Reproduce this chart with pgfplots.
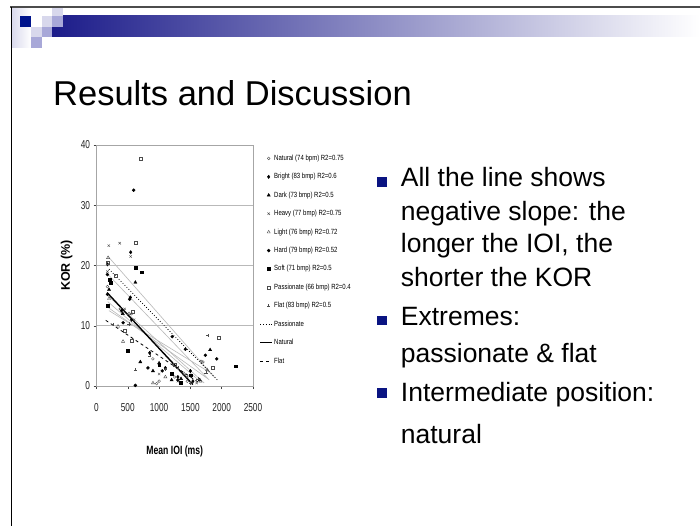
\documentclass[border=0pt]{standalone}
\usepackage{pgfplots}
\pgfplotsset{compat=1.18}
\usepackage{fontspec}
\setmainfont{Liberation Sans}
\newfontfamily\narrowfont[FakeStretch=0.72]{Liberation Sans}
\newfontfamily\legfont[FakeStretch=0.8]{Liberation Sans}
\definecolor{navybar}{RGB}{28,28,138}
\definecolor{midbar}{RGB}{160,160,196}
\definecolor{sqdark}{RGB}{0,20,140}
\definecolor{sqlight}{RGB}{216,216,236}
\definecolor{sqmid}{RGB}{168,168,216}
\definecolor{bulletc}{RGB}{10,20,130}
\pgfplotsset{shortline/.style={legend image code/.code={\draw[##1] (0cm,0cm) -- (0.4cm,0cm);}}}
\begin{document}
\begin{tikzpicture}[x=1pt,y=1pt]
\path[use as bounding box, fill=white] (0,0) rectangle (700,-526);
% header decoration
\shade[left color=sqlight, right color=white] (11,-7) rectangle (31,-48);
\shade[left color=navybar, middle color=midbar, right color=white] (52,-16) rectangle (700,-37);
\fill[sqdark] (20,-16) rectangle (31,-27);
\fill[sqlight] (42,-16) rectangle (52,-27);
\fill[sqlight] (52,-7) rectangle (63,-16);
\fill[sqlight] (31,-27) rectangle (42,-37);
\fill[sqmid] (52,-16) rectangle (63,-27);
\fill[sqmid] (42,-27) rectangle (52,-37);
\fill[sqmid] (31,-37) rectangle (42,-48);
\draw[gray!60!black, line width=1.2pt] (10,-7) -- (700,-7);
\draw[black, line width=0.9pt] (11,-7) -- (11,-526);
% title
\node[anchor=base west, inner sep=0pt, font=\fontsize{34.5}{40}\selectfont] at (53,-106) {Results and Discussion};
% bullets
\fill[bulletc] (377,-177.5) rectangle (387,-187);
\fill[bulletc] (377,-315.5) rectangle (387,-325);
\fill[bulletc] (377,-388) rectangle (387,-397.5);
\begin{scope}[every node/.style={anchor=base west, inner sep=0pt, font=\fontsize{26.5}{30}\selectfont}]
\node at (400.7,-186.7) {All the line shows};
\node at (400.7,-220.3) {negative slope: the};
\node at (400.7,-253) {longer the IOI, the};
\node at (400.7,-286) {shorter the KOR};
\node at (400.7,-325) {Extremes:};
\node at (400.7,-362.7) {passionate \& flat};
\node at (400.7,-401.7) {Intermediate position:};
\node at (400.7,-443) {natural};
\end{scope}
% chart
\begin{axis}[
 at={(96.5pt,-386pt)}, anchor=south west, scale only axis,
 width=156.5pt, height=241pt,
 xmin=0, xmax=2500, ymin=0, ymax=40,
 xtick={0,500,1000,1500,2000,2500}, ytick={0,10,20,30,40},
 tick pos=left,
 ymajorgrids, major grid style={gray!55, line width=0.8pt},
 axis line style={gray!70, line width=0.8pt},
 tick align=outside, major tick length=3pt,
 tick style={gray!50!black, line width=0.5pt},
 /pgf/number format/assume math mode=true,
 /pgf/number format/1000 sep={},
 ticklabel style={font=\narrowfont\fontsize{11.5}{13}\selectfont, text=black!85},
 xticklabel style={yshift=-11pt},
 xlabel={Mean IOI (ms)}, ylabel={KOR (\%)},
 xlabel style={font=\narrowfont\bfseries\fontsize{12}{14}\selectfont, at={(axis description cs:0.5,-0.27)}, anchor=center},
 ylabel style={font=\bfseries\fontsize{12.5}{14}\selectfont, at={(axis description cs:-0.19,0.5)}, anchor=center},
 clip=false,
 legend style={at={(axis description cs:1.04,0.968)}, anchor=north west, draw=none, fill=none,
   font=\legfont\fontsize{7.5}{9}\selectfont, row sep=7.5pt, inner sep=0pt},
 legend cell align=left,
]
% Natural (open circle)
\addplot[only marks, mark=o, mark size=1.4pt, gray!60!black] coordinates {
(175,16.5) (380,12.8) (560,12.0) (900,4.5) (1671,4.1) (1700,4.0) (1250,1.5) (1450,0.8) (1000,0.8) (960,0.4)};
\addlegendentry{Natural (74 bpm) R2=0.75}
% Bright (filled diamond)
\addplot[only marks, mark=diamond*, mark size=1.7pt, black] coordinates {
(546,22.2) (175,20.2) (541,14.7) (400,12.5) (560,11.0) (850,5.5) (1100,3.0) (1300,1.5) (1500,2.5) (1540,0.8)};
\addlegendentry{Bright (83 bmp) R2=0.6}
% Dark (filled triangle)
\addplot[only marks, mark=triangle*, mark size=1.8pt, black] coordinates {
(621,17.2) (200,16.0) (420,12.0) (902,2.5) (1000,3.8) (1200,1.0) (1350,1.2) (1815,6.0) (1650,1.0) (700,4.0)};
\addlegendentry{Dark (73 bmp) R2=0.5}
% Heavy (x)
\addplot[only marks, mark=x, mark size=1.7pt, gray!60!black] coordinates {
(197,23.3) (371,23.7) (546,21.5) (175,19.0) (450,12.8) (600,11.0) (1000,2.0) (1300,0.8) (1450,1.5) (1600,0.5)};
\addlegendentry{Heavy (77 bmp) R2=0.75}
% Light (open triangle)
\addplot[only marks, mark=triangle, mark size=1.8pt, gray!60!black] coordinates {
(185,21.3) (344,9.9) (424,7.4) (902,0.5) (1767,2.7) (1660,0.8) (520,12.0) (200,14.5) (1100,1.5) (1400,2.0)};
\addlegendentry{Light (76 bmp) R2=0.72}
% Hard (filled circle)
\addplot[only marks, mark=*, mark size=1.5pt, black] coordinates {
(594,32.5) (175,18.5) (175,15.2) (424,10.5) (822,3.0) (1210,8.2) (1421,6.1) (1740,5.1) (1920,4.5) (621,0.1) (1050,2.5) (1300,1.0) (530,14.4)};
\addlegendentry{Hard (79 bmp) R2=0.52}
% Soft (filled square)
\addplot[only marks, mark=square*, mark size=1.4pt, black] coordinates {
(621,19.7) (716,18.9) (212,17.7) (227,17.2) (175,13.3) (503,5.8) (2229,3.3) (1200,2.0) (1350,0.5) (1500,1.8) (1000,3.5)};
\addlegendentry{Soft (71 bmp) R2=0.5}
% Passionate (open square)
\addplot[only marks, mark=square, mark size=1.5pt, gray!60!black] coordinates {
(175,20.5) (302,18.3) (626,23.8) (700,37.7) (580,12.3) (451,9.1) (557,7.5) (1250,3.5) (1857,3.0) (1952,8.0)};
\addlegendentry{Passionate (66 bmp) R2=0.4}
% Flat (plus)
\addplot[only marks, mark=+, mark size=1.6pt, gray!60!black] coordinates {
(621,2.7) (1777,8.4) (1750,2.2) (260,10.2) (520,10.3) (850,5.0) (1100,2.8) (1300,3.0) (1500,0.5) (1620,1.2)};
\addlegendentry{Flat (83 bmp) R2=0.5}
% other regression lines (thin gray)
\addplot[gray!55, line width=0.6pt, forget plot] coordinates {(185,21.5) (1880,1.5)};
\addplot[gray!55, line width=0.6pt, forget plot] coordinates {(185,18.5) (1800,1.0)};
\addplot[gray!55, line width=0.6pt, forget plot] coordinates {(180,15.0) (1720,0.5)};
\addplot[gray!55, line width=0.6pt, forget plot] coordinates {(180,14.0) (1650,0.8)};
\addplot[gray!55, line width=0.6pt, forget plot] coordinates {(190,13.0) (1780,1.2)};
\addplot[gray!55, line width=0.6pt, forget plot] coordinates {(200,12.5) (1850,2.0)};
% highlighted regression lines
\addplot[black, line width=0.8pt, dotted, shortline] coordinates {(200,19.4) (1950,0.8)};
\addlegendentry{Passionate}
\addplot[black, line width=1.4pt, shortline] coordinates {(169,15.5) (1538,0.25)};
\addlegendentry{Natural}
\addplot[black, line width=0.8pt, dashed, shortline] coordinates {(148,10.9) (1645,0.5)};
\addlegendentry{Flat}
\end{axis}
\end{tikzpicture}
\end{document}
